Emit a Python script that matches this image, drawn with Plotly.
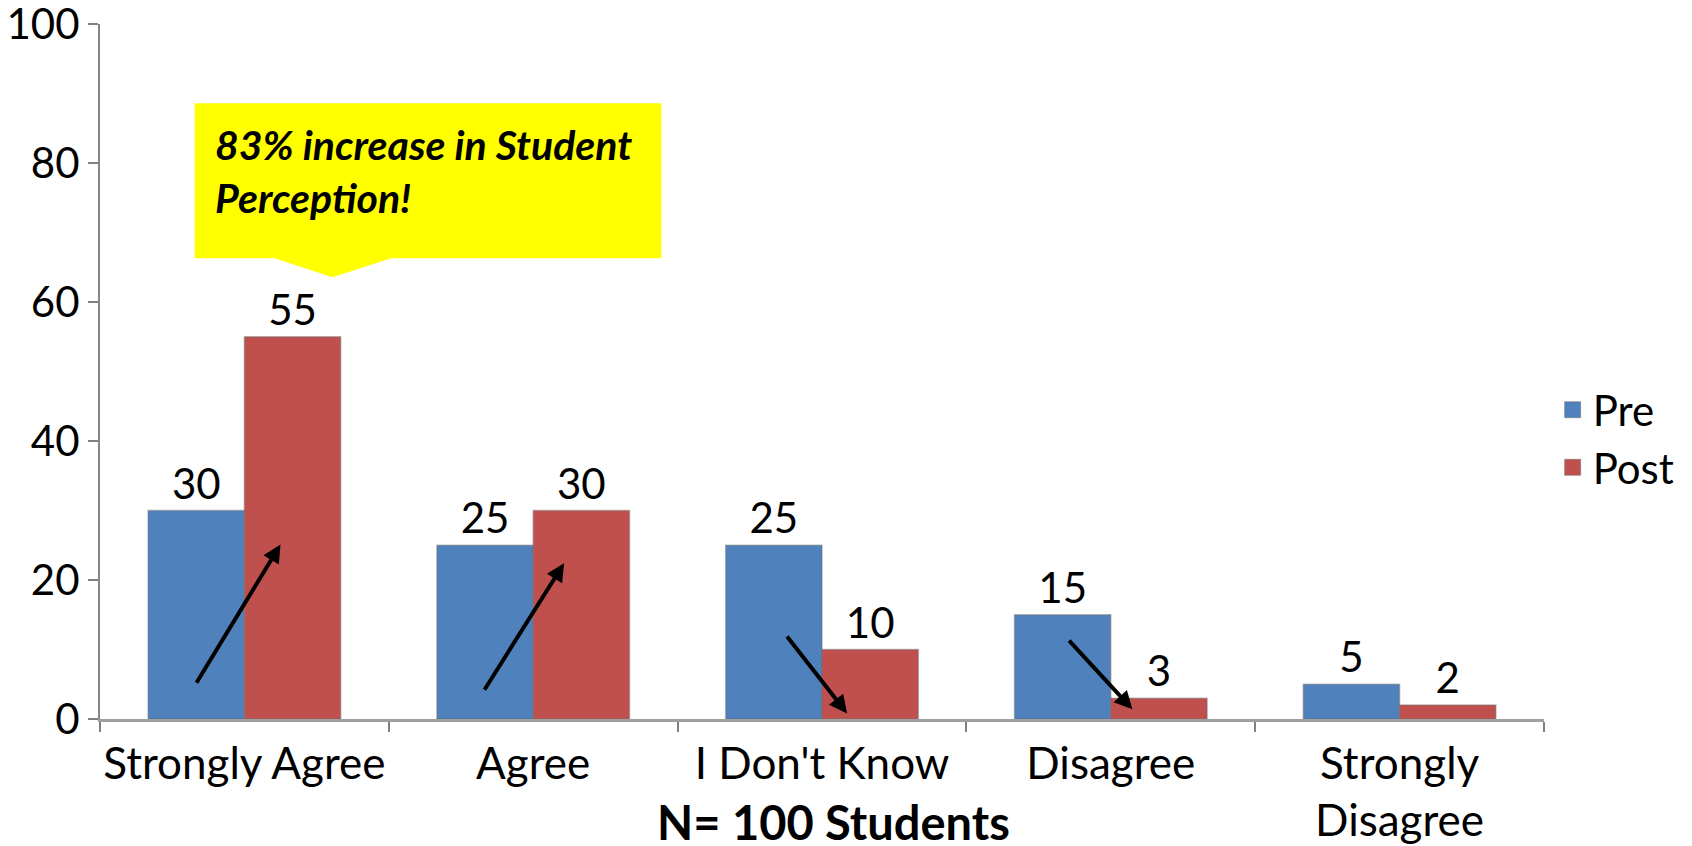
import plotly.graph_objects as go

categories = ["Strongly Agree", "Agree", "I Don't Know", "Disagree", "Strongly Disagree"]
tick_labels = ["Strongly Agree", "Agree", "I Don't Know", "Disagree", "Strongly<br>Disagree"]
pre_values = [30, 25, 25, 15, 5]
post_values = [55, 30, 10, 3, 2]
y_ticks = [0, 20, 40, 60, 80, 100]

# trend arrows: (tail_x, tail_y, head_x, head_y) in axis units
arrows = [
    (-0.169, 5.0, 0.125, 25.1),
    (0.828, 4.0, 1.107, 22.4),
    (1.875, 12.1, 2.087, 0.8),
    (2.851, 11.5, 3.075, 1.4),
]

callout_text = "<b><i>83% increase in Student<br>Perception!</i></b>"
footer_text = "<b>N= 100 Students</b>"

FONT = "Lato, 'Liberation Sans', Arial, sans-serif"
BLUE = "#4F81BD"
RED = "#C0504D"
EDGE = "rgba(110,110,110,0.45)"

fig = go.Figure()
fig.add_trace(go.Bar(
    name="Pre", x=categories, y=pre_values, marker_color=BLUE, showlegend=False,
    marker_line=dict(color=EDGE, width=1.5),
    text=pre_values, textposition="outside", cliponaxis=False,
    textfont=dict(size=42, color="black", family=FONT),
))
fig.add_trace(go.Bar(
    name="Post", x=categories, y=post_values, marker_color=RED, showlegend=False,
    marker_line=dict(color=EDGE, width=1.5),
    text=post_values, textposition="outside", cliponaxis=False,
    textfont=dict(size=42, color="black", family=FONT),
))
# legend entries with larger square swatches
for nm, col in (("Pre", BLUE), ("Post", RED)):
    fig.add_trace(go.Scatter(
        name=nm, x=[None], y=[None], mode="markers",
        marker=dict(symbol="square", size=18, color=col,
                    line=dict(color="rgba(120,120,120,0.6)", width=1)),
        showlegend=True, hoverinfo="skip",
    ))

annotations = []
for tx, ty, hx, hy in arrows:
    annotations.append(dict(
        x=hx, y=hy, ax=tx, ay=ty, xref="x", yref="y", axref="x", ayref="y",
        text="", showarrow=True, arrowhead=2, arrowsize=0.9, arrowwidth=4,
        arrowcolor="black",
    ))

# callout box with pointer (paper coordinates)
box_l, box_r, box_b, box_t = 0.0656, 0.3888, 0.6629, 0.8859
tri_l, tri_r, tri_x, tri_y = 0.1209, 0.2017, 0.1609, 0.6355
path = (f"M{box_l},{box_b} L{tri_l},{box_b} L{tri_x},{tri_y} L{tri_r},{box_b} "
        f"L{box_r},{box_b} L{box_r},{box_t} L{box_l},{box_t} Z")
shapes = [dict(type="path", xref="paper", yref="paper", path=path,
               fillcolor="#FFFF00", line=dict(width=0), layer="above")]

annotations.append(dict(
    x=0.078, y=0.789, xref="paper", yref="paper", xanchor="left", yanchor="middle",
    align="left", showarrow=False, text=callout_text,
    font=dict(size=41, color="black", family=FONT),
))
annotations.append(dict(
    x=0.508, y=-0.148, xref="paper", yref="paper", xanchor="center", yanchor="middle",
    showarrow=False, text=footer_text,
    font=dict(size=47, color="black", family=FONT),
))

fig.update_layout(
    width=1692, height=846,
    margin=dict(l=100, r=144, t=24, b=127),
    paper_bgcolor="white", plot_bgcolor="white",
    barmode="group", bargap=0.333, bargroupgap=0,
    font=dict(family=FONT, size=42, color="black"),
    showlegend=True,
    legend=dict(x=1.006, y=0.403, xanchor="left", yanchor="middle",
                font=dict(size=42, family=FONT), bgcolor="rgba(0,0,0,0)",
                itemsizing="trace", tracegroupgap=0),
    annotations=annotations,
    shapes=shapes,
    xaxis=dict(
        type="category", tickmode="array", tickvals=categories, ticktext=tick_labels,
        showline=True, linecolor="#A0A0A0", linewidth=3, automargin=False,
        ticks="outside", tickson="boundaries", ticklen=10, tickcolor="#808080", tickwidth=2,
        tickfont=dict(size=44, family=FONT), showgrid=False, range=[-0.5, 4.5],
        ticklabelstandoff=4, tickangle=0,
    ),
    yaxis=dict(
        range=[0, 100], tickvals=y_ticks, showline=True, linecolor="#868686", linewidth=2,
        ticks="outside", ticklen=10, tickcolor="#808080", tickwidth=2, automargin=False,
        tickfont=dict(size=42, family=FONT), showgrid=False, zeroline=False,
        ticklabeloverflow="allow",
    ),
)

fig.write_html("out.html", config={"displayModeBar": False},
               post_script="document.body.style.margin='0px';")
